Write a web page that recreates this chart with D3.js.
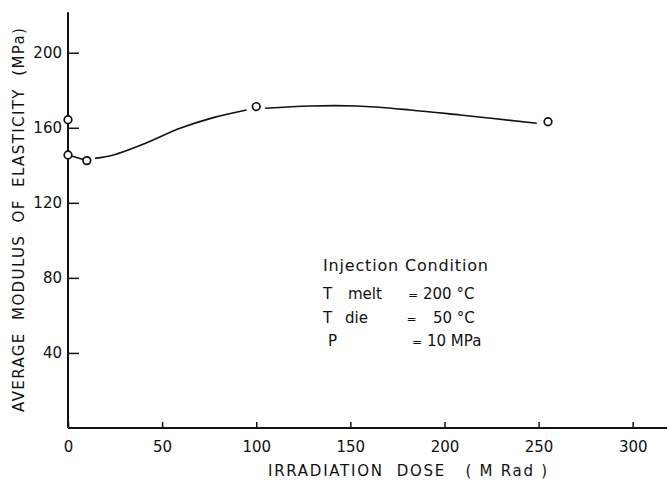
<!DOCTYPE html>
<html><head><meta charset="utf-8">
<script src="https://cdn.jsdelivr.net/npm/d3@7"></script>
<style>body{margin:0;background:#fff}svg{display:block}text{font-family:"DejaVu Sans",sans-serif;fill:#111}</style>
</head><body><svg id="c" width="667" height="482"></svg>
<script>
const xTicks=[0,50,100,150,200,250,300];
const yTicks=[40,80,120,160,200];
// hand-drawn fit curve (null = gap around the marker)
const curveDose=[0,10,null,14.3,24.1,41.8,59.5,77.2,94.9,null,104.7,128.6,153.4,181.7,208.3,249];
const curveModulus=[145.5,142.5,null,143.7,145.5,152.0,159.7,165.4,169.5,null,170.4,171.6,171.6,169.5,166.8,162.4];
const markerDose=[0,0,10,100,255];
const markerModulus=[164.3,145.5,142.5,171.3,163.2];
const noteTitle="Injection Condition";
const noteLabels=["T","T","P"];
const noteSub=["melt","die",""];
const noteValues=["200 °C","50 °C","10 MPa"];

const svg=d3.select("#c");
const x=d3.scaleLinear([0,300],[68,632.7]);
const y=d3.scaleLinear([0,200],[428,52.7]);

// axes
const xa=svg.append("g").attr("transform","translate(0,428)")
 .call(d3.axisBottom(x).tickValues(xTicks).tickSize(-6).tickPadding(13).tickFormat(d3.format("d")));
xa.select(".domain").remove();
svg.append("line").attr("x1",x(0)).attr("x2",667).attr("y1",428).attr("y2",428).attr("stroke","#111").attr("stroke-width",2);
const ya=svg.append("g").attr("transform","translate(68,0)")
 .call(d3.axisLeft(y).tickValues(yTicks).tickSize(-11).tickPadding(6).tickFormat(d3.format("d")));
ya.select(".domain").remove();
svg.append("line").attr("x1",68).attr("x2",68).attr("y1",y(221.5)).attr("y2",428).attr("stroke","#111").attr("stroke-width",2);
svg.selectAll(".tick line").attr("stroke","#111").attr("stroke-width",1.5);
svg.selectAll(".tick text").attr("font-size",15).attr("fill","#111").style("font-family","DejaVu Sans");

// axis titles
svg.append("text").attr("x",268).attr("y",476).attr("font-size",15)
 .attr("textLength",279).attr("lengthAdjust","spacing").style("white-space","pre").text("IRRADIATION  DOSE   ( M Rad )");
svg.append("text").attr("transform","translate(24,412) rotate(-90)").attr("font-size",15)
 .attr("textLength",384).attr("lengthAdjust","spacing").style("white-space","pre").text("AVERAGE  MODULUS  OF  ELASTICITY  (MPa)");

// curve
const pts=curveDose.map((d,i)=>[d,curveModulus[i]]);
const line=d3.line().defined(d=>d[0]!==null).x(d=>x(d[0])).y(d=>y(d[1])).curve(d3.curveCatmullRom.alpha(0.5));
svg.append("path").attr("d",line(pts)).attr("fill","none").attr("stroke","#111").attr("stroke-width",1.6);

// markers
const mk=markerDose.map((d,i)=>[d,markerModulus[i]]);
svg.selectAll(".mk").data(mk).join("circle").attr("class","mk")
 .attr("cx",d=>x(d[0])).attr("cy",d=>y(d[1])).attr("r",3.8).attr("fill","#fff").attr("stroke","#111").attr("stroke-width",1.7);

// annotation
const g=svg.append("g").attr("font-size",15);
g.append("text").attr("x",323).attr("y",271).attr("font-size",16).attr("textLength",165).attr("lengthAdjust","spacing").text(noteTitle);
const ny=[299,323,346];
const lx=[323,323,328];
const sx=[348,345,0];
const ex=[413,411.5,417];
const vx=[423,433,427];
noteLabels.forEach((t,i)=>{
  g.append("text").attr("x",lx[i]).attr("y",ny[i]).text(t);
  if(noteSub[i]) g.append("text").attr("x",sx[i]).attr("y",ny[i]).text(noteSub[i]);
  g.append("text").attr("x",ex[i]).attr("y",ny[i]).attr("font-size",12).attr("text-anchor","middle").text("=");
  g.append("text").attr("x",vx[i]).attr("y",ny[i]).style("white-space","pre").text(noteValues[i]);
});
</script></body></html>
